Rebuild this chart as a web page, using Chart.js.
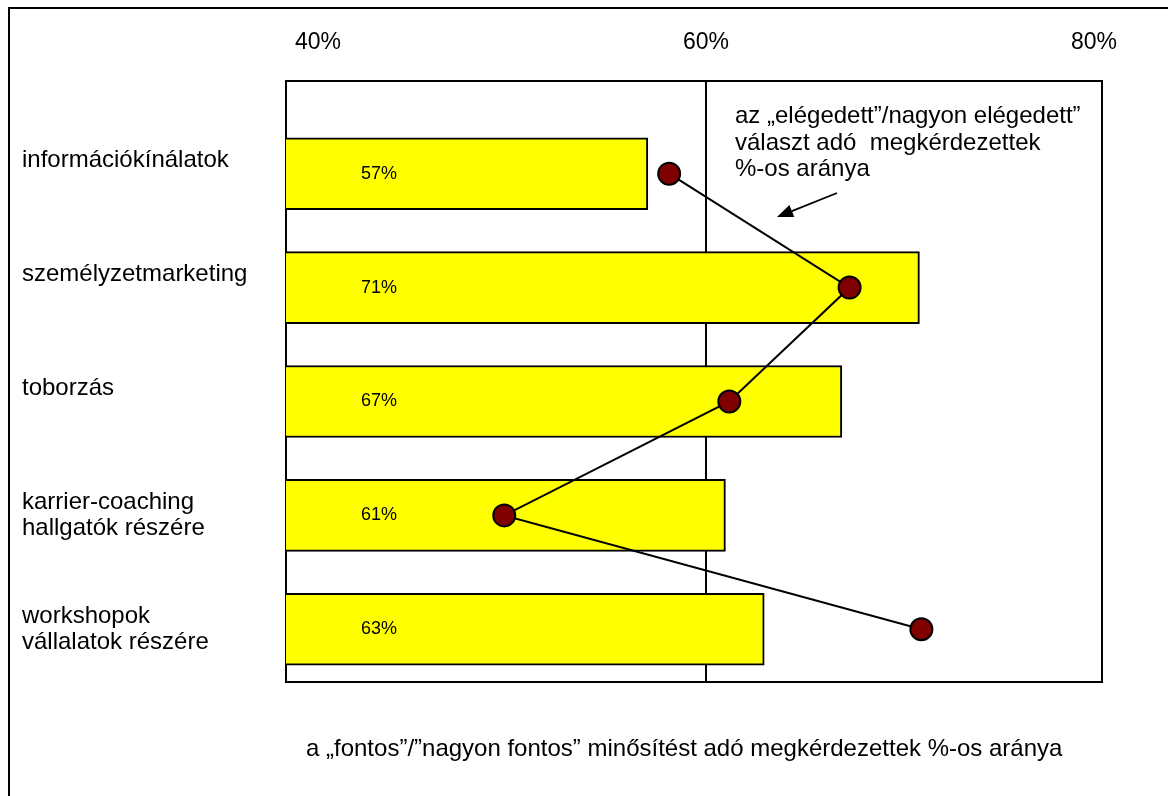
<!DOCTYPE html>
<html lang="hu">
<head>
<meta charset="utf-8">
<title>Fontosság és elégedettség</title>
<script src="https://cdn.jsdelivr.net/npm/chart.js@4.4.1/dist/chart.umd.min.js"></script>
<style>
  html, body { margin: 0; padding: 0; background: #fff; }
  canvas { display: block; }
</style>
</head>
<body>
<canvas id="grafikon" width="1168" height="796"></canvas>
<script>
const kategoriak = [
  ['információkínálatok'],
  ['személyzetmarketing'],
  ['toborzás'],
  ['karrier-coaching', 'hallgatók részére'],
  ['workshopok', 'vállalatok részére']
];
// "fontos"/"nagyon fontos" arány (sávok)
const fontosArany = [57, 71, 67, 61, 63];
// "elégedett"/"nagyon elégedett" arány (pontok)
const elegedettArany = [58.1, 67.4, 61.2, 49.6, 71.1];
const xTickek = [40, 60, 80];

const megjegyzes = [
  'az „elégedett”/nagyon elégedett”',
  'választ adó  megkérdezettek',
  '%-os aránya'
];
const xCim = 'a „fontos”/”nagyon fontos” minősítést adó megkérdezettek %-os aránya';

const betu = '"Liberation Sans", Arial, sans-serif';

const keret = {
  id: 'keret',
  beforeDatasetsDraw(chart) {
    const { ctx, chartArea: a } = chart;
    ctx.save();
    ctx.strokeStyle = '#000';
    ctx.lineWidth = 2;
    ctx.strokeRect(a.left, a.top, a.right - a.left, a.bottom - a.top);
    // külső keret (bal és felső él)
    ctx.beginPath();
    ctx.moveTo(9, chart.height);
    ctx.lineTo(9, 8);
    ctx.lineTo(chart.width, 8);
    ctx.stroke();
    ctx.restore();
  }
};

const feliratok = {
  id: 'feliratok',
  afterDatasetsDraw(chart) {
    const { ctx, chartArea: a } = chart;
    const savok = chart.getDatasetMeta(0).data;
    ctx.save();
    ctx.fillStyle = '#000';

    // értékek a sávokban
    ctx.font = '18px ' + betu;
    ctx.textAlign = 'center';
    ctx.textBaseline = 'middle';
    savok.forEach((sav, i) => ctx.fillText(fontosArany[i] + '%', a.left + 93, sav.y));

    // megjegyzés
    ctx.font = '24px ' + betu;
    ctx.textAlign = 'left';
    ctx.textBaseline = 'alphabetic';
    megjegyzes.forEach((sor, i) => ctx.fillText(sor, a.left + 449, a.top + 42 + i * 26.5));

    // nyíl
    const x0 = a.left + 551, y0 = a.top + 112;
    const x1 = a.left + 491, y1 = a.top + 136;
    const hossz = Math.hypot(x1 - x0, y1 - y0);
    const ux = (x1 - x0) / hossz, uy = (y1 - y0) / hossz;
    const fej = 16, fel = 6.5;
    ctx.strokeStyle = '#000';
    ctx.lineWidth = 1.8;
    ctx.beginPath();
    ctx.moveTo(x0, y0);
    ctx.lineTo(x1 - ux * fej, y1 - uy * fej);
    ctx.stroke();
    ctx.beginPath();
    ctx.moveTo(x1, y1);
    ctx.lineTo(x1 - ux * fej - uy * fel, y1 - uy * fej + ux * fel);
    ctx.lineTo(x1 - ux * fej + uy * fel, y1 - uy * fej - ux * fel);
    ctx.closePath();
    ctx.fill();

    // tengelycím alul
    ctx.fillText(xCim, a.left + 20, a.bottom + 74);
    ctx.restore();
  }
};

new Chart(document.getElementById('grafikon'), {
  data: {
    datasets: [
      {
        type: 'bar',
        data: fontosArany.map((v, i) => ({ x: v, y: i })),
        backgroundColor: '#ffff00',
        borderColor: '#000',
        borderWidth: 2,
        borderSkipped: false,
        barThickness: 72,
        order: 1
      },
      {
        type: 'line',
        data: elegedettArany.map((v, i) => ({ x: v, y: i })),
        borderColor: '#000',
        borderWidth: 2,
        pointRadius: 11,
        pointBackgroundColor: '#800000',
        pointBorderColor: '#000',
        pointBorderWidth: 2,
        order: 0
      }
    ]
  },
  options: {
    indexAxis: 'y',
    responsive: false,
    animation: false,
    layout: { padding: { left: 22, right: 66, top: 0, bottom: 114 } },
    plugins: {
      legend: { display: false },
      tooltip: { enabled: false }
    },
    scales: {
      x: {
        type: 'linear',
        position: 'top',
        offset: false,
        min: 38.35,
        max: 80.41,
        afterBuildTicks: s => { s.ticks = xTickek.map(v => ({ value: v })); },
        afterFit: s => { s.height = 81; },
        ticks: {
          color: '#000',
          padding: 25,
          font: { family: betu, size: 23 },
          callback: v => v + '%'
        },
        grid: {
          drawTicks: false,
          lineWidth: 2,
          color: c => (c.tick && c.tick.value === 60 ? '#000' : 'rgba(0,0,0,0)')
        },
        border: { display: false }
      },
      y: {
        type: 'linear',
        reverse: true,
        offset: false,
        min: -0.814,
        max: 4.463,
        afterBuildTicks: s => { s.ticks = kategoriak.map((_, i) => ({ value: i })); },
        afterFit: s => { s.width = 264; },
        ticks: {
          color: '#000',
          padding: 0,
          crossAlign: 'far',
          font: { family: betu, size: 24, lineHeight: 1.08 },
          callback: v => {
            const sorok = kategoriak[v];
            return sorok.length === 1 ? [sorok[0], ''] : sorok;
          }
        },
        grid: { display: false },
        border: { display: false }
      }
    }
  },
  plugins: [keret, feliratok]
});
</script>
</body>
</html>
